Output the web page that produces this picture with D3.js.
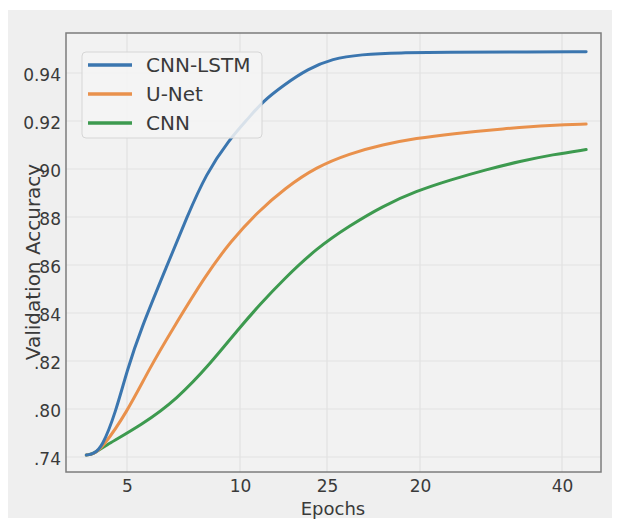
<!DOCTYPE html>
<html>
<head>
<meta charset="utf-8">
<script src="https://cdn.jsdelivr.net/npm/d3@7"></script>
<style>
  body { margin: 0; background: #fff; }
  text { font-family: "DejaVu Sans", sans-serif; fill: #3a3a3a; }
</style>
</head>
<body>
<svg id="chart" width="619" height="524"></svg>
<script>
// Tick values and their printed labels (labels copied as they appear)
const yTickVals = [0.74, 0.80, 0.82, 0.84, 0.86, 0.88, 0.90, 0.92, 0.94];
const yTickLabels = [".74", ".80", ".82", "84", "86", "88", "90", "0.92", "0.94"];
const xTickVals = [5, 10, 15, 20, 40];
const xTickLabels = ["5", "10", "25", "20", "40"];

// Series
const seriesNames = ["CNN-LSTM", "U-Net", "CNN"];
const cnnLstmEpochs = [3.2, 3.5, 3.9, 4.5, 5.0, 5.6, 6.8, 7.65, 8.5, 9.5, 10.5, 11.3, 12.5, 13.9, 15.3, 16.8, 18.9, 24.2, 32, 43.4];
const cnnLstmAcc = [0.7425, 0.7435, 0.752, 0.796, 0.816, 0.833, 0.8604, 0.880, 0.898, 0.912, 0.9213, 0.9281, 0.9349, 0.9417, 0.946, 0.9477, 0.9485, 0.9486, 0.9487, 0.9489];
const uNetEpochs = [3.2, 3.5, 3.9, 5.0, 6.0, 7.0, 8.5, 9.6, 11.0, 12.6, 14.4, 16.2, 18.0, 19.8, 24.5, 31.7, 38.7, 43.4];
const uNetAcc = [0.7425, 0.7435, 0.751, 0.796, 0.817, 0.833, 0.856, 0.870, 0.882, 0.8921, 0.9009, 0.9064, 0.9102, 0.9128, 0.9147, 0.9168, 0.9183, 0.9187];
const cnnEpochs = [3.2, 3.5, 3.9, 5.7, 7.2, 8.7, 9.9, 11.2, 12.5, 14.4, 16.2, 18.0, 19.8, 24.2, 29.4, 34.1, 38.7, 43.4];
const cnnAcc = [0.7425, 0.7435, 0.752, 0.781, 0.804, 0.819, 0.833, 0.844, 0.854, 0.867, 0.8763, 0.8846, 0.8908, 0.8954, 0.8998, 0.9032, 0.906, 0.9081];
const colors = ["#3b76af", "#e9914c", "#3d9a4f"];

const svg = d3.select("#chart");

// plot box
const plotL = 66, plotR = 601, plotT = 33, plotB = 472;

// outer panel
svg.append("rect")
    .attr("x", 8).attr("y", 10)
    .attr("width", 604).attr("height", 508)
    .attr("fill", "#efefef");

svg.append("rect")
    .attr("x", plotL).attr("y", plotT)
    .attr("width", plotR - plotL).attr("height", plotB - plotT)
    .attr("fill", "#f2f2f2");

// both axes are unevenly spaced in the original, so use piecewise scales
const yStep = 48;
const yScale = d3.scaleLinear()
    .domain(yTickVals)
    .range(yTickVals.map((d, i) => 457 - i * yStep));

const xScale = d3.scaleLinear()
    .domain(xTickVals)
    .range([127, 240, 327, 420, 562]);

// grid
const grid = svg.append("g");
grid.selectAll(".hgrid")
    .data(yTickVals)
    .enter().append("line")
    .attr("x1", plotL).attr("x2", plotR)
    .attr("y1", d => yScale(d)).attr("y2", d => yScale(d))
    .attr("stroke", "#e1e1e1")
    .attr("stroke-width", 1.2);
grid.selectAll(".vgrid")
    .data(xTickVals)
    .enter().append("line")
    .attr("y1", plotT).attr("y2", plotB)
    .attr("x1", d => xScale(d)).attr("x2", d => xScale(d))
    .attr("stroke", "#e1e1e1")
    .attr("stroke-width", 1.2);

// axes (labels only, no tick marks)
const yAxis = d3.axisLeft(yScale)
    .tickValues(yTickVals)
    .tickFormat((d, i) => yTickLabels[i])
    .tickSize(0)
    .tickPadding(5);
const yG = svg.append("g")
    .attr("transform", `translate(${plotL},0)`)
    .call(yAxis);
yG.select(".domain").remove();
yG.selectAll("text")
    .attr("font-family", "DejaVu Sans")
    .attr("font-size", 17)
    .attr("fill", "#444")
    .attr("dy", "0.45em");

const xAxis = d3.axisBottom(xScale)
    .tickValues(xTickVals)
    .tickFormat((d, i) => xTickLabels[i])
    .tickSize(0)
    .tickPadding(8);
const xG = svg.append("g")
    .attr("transform", `translate(0,${plotB})`)
    .call(xAxis);
xG.select(".domain").remove();
xG.selectAll("text")
    .attr("font-family", "DejaVu Sans")
    .attr("font-size", 17)
    .attr("fill", "#444");

// frame
svg.append("rect")
    .attr("x", plotL).attr("y", plotT)
    .attr("width", plotR - plotL).attr("height", plotB - plotT)
    .attr("fill", "none")
    .attr("stroke", "#7c7c7c")
    .attr("stroke-width", 1.5);

// axis titles
svg.append("text")
    .attr("x", 333).attr("y", 515)
    .attr("text-anchor", "middle")
    .attr("font-size", 18)
    .text("Epochs");

svg.append("text")
    .attr("transform", "translate(40,262) rotate(-90)")
    .attr("text-anchor", "middle")
    .attr("font-size", 20)
    .text("Validation Accuracy");

// lines
const series = [
    { name: seriesNames[0], x: cnnLstmEpochs, y: cnnLstmAcc },
    { name: seriesNames[1], x: uNetEpochs, y: uNetAcc },
    { name: seriesNames[2], x: cnnEpochs, y: cnnAcc }
];

const line = d3.line()
    .x(d => xScale(d[0]))
    .y(d => yScale(d[1]))
    .curve(d3.curveBasis);

// draw CNN first so blue sits on top like the original
svg.selectAll(".series")
    .data(series.slice().reverse())
    .enter().append("path")
    .attr("class", "series")
    .attr("d", s => line(s.x.map((e, i) => [e, s.y[i]])))
    .attr("fill", "none")
    .attr("stroke", s => colors[seriesNames.indexOf(s.name)])
    .attr("stroke-width", 3)
    .attr("stroke-linecap", "round");

// legend
const legend = svg.append("g");
legend.append("rect")
    .attr("x", 82).attr("y", 52)
    .attr("width", 180).attr("height", 86)
    .attr("rx", 4)
    .attr("fill", "#f4f4f4")
    .attr("fill-opacity", 0.85)
    .attr("stroke", "#d6d6d6");

const items = legend.selectAll(".item")
    .data(seriesNames)
    .enter().append("g")
    .attr("transform", (d, i) => `translate(0,${65 + i * 29})`);
items.append("line")
    .attr("x1", 88).attr("x2", 132)
    .attr("stroke", (d, i) => colors[i])
    .attr("stroke-width", 3.5);
items.append("text")
    .attr("x", 146)
    .attr("dy", "0.36em")
    .attr("font-size", 20)
    .attr("fill", "#2a2a2a")
    .text(d => d);
</script>
</body>
</html>
